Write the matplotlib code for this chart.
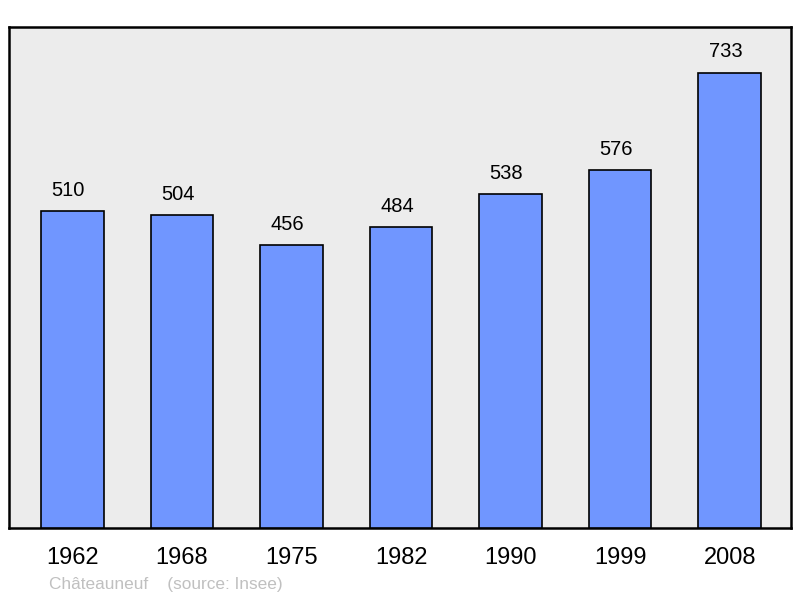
import matplotlib
matplotlib.use("Agg")
import matplotlib.pyplot as plt

years = ["1962", "1968", "1975", "1982", "1990", "1999", "2008"]
population = [510, 504, 456, 484, 538, 576, 733]
caption = "Châteauneuf    (source: Insee)"

plt.rcParams['font.family'] = ['Liberation Sans', 'DejaVu Sans']

fig = plt.figure(figsize=(8, 5.98), dpi=100)
W, H = 800, 598
ax = fig.add_axes([9 / W, (H - 528) / H, 782 / W, 501 / H])
ax.set_facecolor('#ececec')

x = list(range(len(years)))
ax.bar(x, population, width=0.57, color='#7096ff', edgecolor='black', linewidth=1.2, zorder=3)
for xi, v in zip(x, population):
    ax.annotate(str(v), (xi, v), xytext=(-3, 8), textcoords='offset points',
                ha='center', va='bottom', fontsize=14.5, color='black')

ax.set_xlim(-0.58, len(years) - 1 + 0.56)
ax.set_ylim(0, max(population) * 1.1)
ax.set_yticks([])
ax.set_xticks(x)
ax.set_xticklabels(years, fontsize=17)
ax.tick_params(axis='x', length=0, pad=13.5)
for s in ax.spines.values():
    s.set_linewidth(1.8)
    s.set_color('black')

fig.text(49 / W, 1 - 584 / H, caption, fontsize=12.4, color='#c0c0c0', ha='left', va='center')

fig.savefig('out.png', dpi=100)
